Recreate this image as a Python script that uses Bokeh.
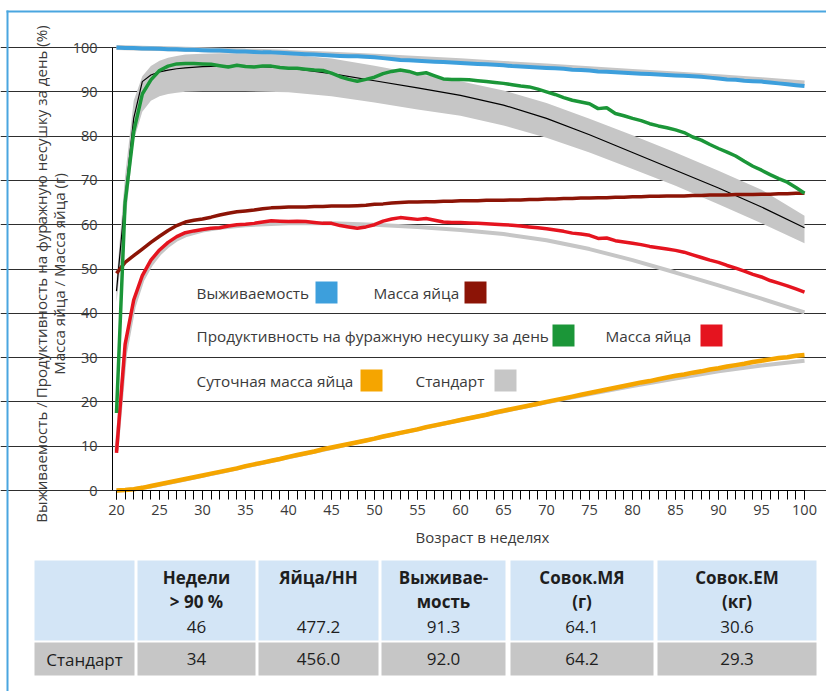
import math
from bokeh.plotting import figure
from bokeh.models import Label, FixedTicker, Range1d, LinearAxis, Grid
from bokeh.embed import file_html
from bokeh.resources import INLINE
from bokeh.core.properties import value

# ---------------- data ----------------
weeks = list(range(20, 101))

survival = [100.0, 99.9, 99.9, 99.8, 99.8, 99.7, 99.6, 99.6, 99.5, 99.5,
            99.4, 99.3, 99.3, 99.2, 99.1, 99.1, 99.0, 98.9, 98.9, 98.8,
            98.7, 98.6, 98.5, 98.4, 98.3, 98.2, 98.1, 98.0, 98.0, 97.9,
            97.8, 97.6, 97.4, 97.2, 97.1, 97.0, 96.9, 96.8, 96.7, 96.6,
            96.5, 96.4, 96.3, 96.2, 96.1, 96.0, 95.8, 95.7, 95.6, 95.5,
            95.4, 95.3, 95.2, 95.0, 94.9, 94.8, 94.6, 94.5, 94.4, 94.3,
            94.2, 94.1, 94.0, 93.9, 93.8, 93.7, 93.6, 93.5, 93.4, 93.2,
            93.0, 92.8, 92.7, 92.5, 92.4, 92.3, 92.1, 91.9, 91.7, 91.5, 91.3]

production = [17.5, 65.0, 81.0, 89.5, 92.7, 94.8, 95.8, 96.3, 96.4, 96.4,
              96.3, 96.2, 95.9, 95.6, 96.0, 95.7, 95.6, 95.8, 95.8, 95.5,
              95.3, 95.3, 95.1, 94.9, 94.8, 94.2, 93.4, 92.8, 92.4, 92.8,
              93.3, 94.1, 94.6, 94.9, 94.6, 94.0, 94.3, 93.6, 92.9, 92.8,
              92.8, 92.7, 92.5, 92.3, 92.1, 91.9, 91.6, 91.3, 91.1, 90.6,
              90.0, 89.4, 88.7, 88.1, 87.7, 87.3, 86.2, 86.4, 85.1, 84.6,
              84.0, 83.5, 82.8, 82.3, 81.9, 81.4, 80.8, 79.8, 79.1, 78.1,
              77.2, 76.4, 75.5, 74.3, 73.2, 72.3, 71.3, 70.4, 69.6, 68.4, 67.1]

egg_weight = [49.0, 51.5, 53.0, 54.5, 56.0, 57.4, 58.7, 59.8, 60.6, 61.0,
              61.3, 61.7, 62.2, 62.6, 62.9, 63.1, 63.3, 63.6, 63.8, 63.9,
              64.0, 64.0, 64.0, 64.1, 64.1, 64.2, 64.2, 64.2, 64.3, 64.4,
              64.6, 64.7, 64.9, 65.0, 65.1, 65.1, 65.2, 65.2, 65.3, 65.3,
              65.4, 65.4, 65.4, 65.5, 65.5, 65.5, 65.6, 65.6, 65.7, 65.7,
              65.8, 65.8, 65.9, 65.9, 66.0, 66.0, 66.1, 66.1, 66.2, 66.2,
              66.3, 66.3, 66.4, 66.4, 66.5, 66.5, 66.5, 66.6, 66.6, 66.7,
              66.7, 66.7, 66.8, 66.8, 66.8, 66.9, 66.9, 67.0, 67.0, 67.1, 67.1]

egg_mass = [8.5, 33.0, 43.0, 48.5, 52.0, 54.3, 56.0, 57.3, 58.2, 58.6,
            58.9, 59.2, 59.3, 59.7, 60.0, 60.1, 60.3, 60.6, 60.9, 60.8,
            60.7, 60.8, 60.7, 60.5, 60.3, 60.3, 59.8, 59.5, 59.2, 59.5,
            60.0, 60.8, 61.3, 61.6, 61.4, 61.2, 61.4, 61.0, 60.6, 60.5,
            60.5, 60.4, 60.3, 60.2, 60.1, 60.0, 59.9, 59.7, 59.5, 59.3,
            59.1, 58.8, 58.5, 58.1, 57.9, 57.6, 56.9, 57.0, 56.4, 56.1,
            55.8, 55.5, 55.1, 54.8, 54.5, 54.2, 53.8, 53.2, 52.6, 52.0,
            51.5, 50.8, 50.2, 49.5, 48.8, 48.2, 47.4, 46.8, 46.2, 45.5, 44.8]

cum_egg_mass = [0.0, 0.1, 0.3, 0.6, 1.0, 1.4, 1.8, 2.2, 2.6, 3.0,
                3.4, 3.8, 4.2, 4.6, 5.0, 5.5, 5.9, 6.3, 6.7, 7.1,
                7.6, 8.0, 8.4, 8.8, 9.3, 9.7, 10.1, 10.5, 10.9, 11.3,
                11.7, 12.2, 12.6, 13.0, 13.4, 13.8, 14.3, 14.7, 15.1, 15.5,
                15.9, 16.3, 16.7, 17.1, 17.6, 18.0, 18.4, 18.8, 19.2, 19.6,
                20.0, 20.4, 20.8, 21.2, 21.6, 22.0, 22.4, 22.8, 23.2, 23.6,
                24.0, 24.4, 24.7, 25.1, 25.5, 25.9, 26.2, 26.6, 26.9, 27.3,
                27.6, 28.0, 28.3, 28.6, 29.0, 29.3, 29.6, 29.9, 30.1, 30.4, 30.6]

std_weeks = [20, 21, 22, 23, 24, 25, 26, 27, 28, 30, 32, 35, 40, 45, 50,
             55, 60, 65, 70, 75, 80, 85, 90, 95, 100]
std_survival = [100.0, 99.95, 99.9, 99.85, 99.8, 99.75, 99.7, 99.65, 99.6, 99.5,
                99.4, 99.2, 98.9, 98.5, 98.0, 97.5, 97.0, 96.4, 95.8, 95.2,
                94.6, 94.0, 93.4, 92.7, 92.0]
std_production = [45.0, 66.0, 84.0, 92.3, 93.8, 94.5, 94.9, 95.2, 95.4, 95.7,
                  95.8, 95.8, 95.4, 94.1, 92.5, 90.9, 89.2, 87.0, 84.0, 80.3,
                  76.3, 72.3, 68.3, 64.0, 59.3]
std_production_low = [42.5, 60.0, 79.0, 85.5, 88.0, 89.0, 89.5, 89.8, 90.0, 90.1,
                      90.1, 90.1, 89.9, 89.0, 87.6, 86.0, 84.6, 82.4, 79.6, 76.3,
                      72.6, 68.8, 64.6, 60.3, 55.8]
std_production_high = [47.5, 71.0, 88.0, 93.5, 95.8, 97.0, 97.7, 98.1, 98.4, 98.6,
                       98.7, 98.7, 98.4, 97.5, 95.9, 94.1, 92.4, 90.3, 87.5, 83.9,
                       80.2, 76.3, 72.2, 67.9, 62.0]
std_egg_mass = [9.0, 31.0, 41.5, 47.5, 51.0, 53.5, 55.3, 56.7, 57.6, 58.7,
                59.3, 59.9, 60.3, 60.3, 60.0, 59.5, 58.8, 57.9, 56.5, 54.5,
                52.0, 49.2, 46.3, 43.3, 40.2]
std_cum_egg_mass = [0.0, 0.1, 0.3, 0.6, 0.9, 1.3, 1.7, 2.1, 2.5, 3.3,
                    4.1, 5.4, 7.5, 9.6, 11.7, 13.8, 15.9, 17.9, 19.9, 21.8,
                    23.6, 25.3, 26.9, 28.2, 29.3]

y_ticks = list(range(0, 101, 10))
x_major_ticks = list(range(20, 101, 5))
x_minor_ticks = list(range(20, 101, 1))

legend_labels = ["Выживаемость", "Масса яйца",
                 "Продуктивность на фуражную несушку за день", "Масса яйца",
                 "Суточная масса яйца", "Стандарт"]

table_header_line1 = ["Недели", "Яйца/НН", "Выживае-", "Совок.МЯ", "Совок.ЕМ"]
table_header_line2 = ["> 90 %", "", "мость", "(г)", "(кг)"]
table_values = ["46", "477.2", "91.3", "64.1", "30.6"]
table_standard_label = "Стандарт"
table_standard = ["34", "456.0", "92.0", "64.2", "29.3"]

y_label_1 = "Выживаемость / Продуктивность на фуражную несушку за день (%)"
y_label_2 = "Масса яйца / Масса яйца (г)"
x_label = "Возраст в неделях"

# ---------------- styles / layout ----------------
FONT = "Open Sans"
BLUE = "#3d9fdc"
DARKRED = "#8c1406"
GREEN = "#1b9638"
RED = "#e5141f"
ORANGE = "#f5a500"
GRAY = "#c6c6c6"
BORDER = "#4aa6e0"
TXT = "#3a3a3a"
TAB_TXT = "#1e1e1e"
HEAD_BG = "#d3e5f6"
STD_BG = "#c6c6c6"
legend_colors = [BLUE, DARKRED, GREEN, RED, ORANGE, GRAY]

W, H = 826, 691
SX, SY = 8.6, 4.43        # px per week, px per unit
PX20, PY0 = 116, 490      # pixel of week 20, pixel of value 0


def dx(px):
    return 20 + (px - PX20) / SX


def dy(py):
    return (PY0 - py) / SY


p = figure(width=W, height=H, x_range=Range1d(dx(0), dx(W)), y_range=Range1d(dy(H), dy(0)),
           output_backend="svg", toolbar_location=None, x_axis_type=None, y_axis_type=None,
           min_border=0)
p.outline_line_color = None
p.background_fill_color = "white"
p.border_fill_color = "white"

grid = Grid(dimension=1, ticker=FixedTicker(ticks=y_ticks), bounds=(dx(112), dx(810)),
            grid_line_color="#2e2e2e", grid_line_width=1)
p.add_layout(grid)

yaxis = LinearAxis(fixed_location=dx(112), ticker=FixedTicker(ticks=y_ticks), bounds=(0, 100))
yaxis.axis_line_color = "black"
yaxis.major_tick_out = 12
yaxis.major_tick_in = 0
yaxis.minor_tick_out = 0
yaxis.minor_tick_in = 0
yaxis.major_tick_line_color = "#2e2e2e"
yaxis.major_label_standoff = 3
yaxis.major_label_text_font = FONT
yaxis.major_label_text_font_size = "14.5px"
yaxis.major_label_text_color = TXT
p.add_layout(yaxis, "left")

xaxis = LinearAxis(fixed_location=0, ticker=FixedTicker(ticks=x_major_ticks, minor_ticks=x_minor_ticks),
                   bounds=(20, 100))
xaxis.axis_line_color = "black"
xaxis.major_tick_out = 9
xaxis.major_tick_in = 0
xaxis.minor_tick_out = 9
xaxis.minor_tick_in = 0
xaxis.major_tick_line_color = "black"
xaxis.minor_tick_line_color = "black"
xaxis.major_label_standoff = 5
xaxis.major_label_text_font = FONT
xaxis.major_label_text_font_size = "14.5px"
xaxis.major_label_text_color = TXT
p.add_layout(xaxis, "below")

# standards
p.varea(x=std_weeks, y1=std_production_low, y2=std_production_high, fill_color=GRAY)
p.line(std_weeks, std_survival, line_color=GRAY, line_width=5)
p.line(std_weeks, std_egg_mass, line_color=GRAY, line_width=4)
p.line(std_weeks, std_cum_egg_mass, line_color=GRAY, line_width=4)
p.line(std_weeks, std_production, line_color="black", line_width=1.2)

# actuals
p.line(weeks, survival, line_color=BLUE, line_width=4)
p.line(weeks, egg_weight, line_color=DARKRED, line_width=3.5)
p.line(weeks, egg_mass, line_color=RED, line_width=3.5)
p.line(weeks, production, line_color=GREEN, line_width=3.5)
p.line(weeks, cum_egg_mass, line_color=ORANGE, line_width=4.5)

# legend (text + squares)
legend_text_pos = [(196, 292), (373, 292), (196, 335), (605, 335), (196, 380), (415, 380)]
legend_box_pos = [(326, 292), (475, 292), (563, 335), (711, 335), (371, 380), (505, 380)]
for lab, (tx, ty) in zip(legend_labels, legend_text_pos):
    p.add_layout(Label(x=dx(tx), y=dy(ty), text=lab, text_font=FONT, text_font_size="15.3px",
                       text_color=TXT, text_align="left", text_baseline="middle"))
p.rect(x=[dx(bx) for bx, by in legend_box_pos], y=[dy(by) for bx, by in legend_box_pos],
       width=22, height=22, width_units="screen", height_units="screen",
       fill_color=legend_colors, line_color=None)

# axis titles (two centred lines, rotated)
p.add_layout(Label(x=dx(40), y=dy(273.5), text=y_label_1, angle=math.pi / 2, text_font=FONT,
                   text_font_size="15.1px", text_color=TXT, text_align="center", text_baseline="middle"))
p.add_layout(Label(x=dx(58.5), y=dy(273.5), text=y_label_2, angle=math.pi / 2, text_font=FONT,
                   text_font_size="15.1px", text_color=TXT, text_align="center", text_baseline="middle"))
p.add_layout(Label(x=dx(482), y=dy(536), text=x_label, text_font=FONT, text_font_size="15px",
                   text_color=TXT, text_align="center", text_baseline="middle"))

# outer blue border (left and top)
p.quad(left=[dx(6), dx(6)], right=[dx(8), dx(W + 5)], top=[dy(10), dy(10)], bottom=[dy(H + 5), dy(12)],
       fill_color=BORDER, line_color=None)

# ---------------- table ----------------
col_l = [34, 137, 258, 381, 510, 657]
col_r = [134, 255, 378, 505, 653, 816]
head_top, head_bot = 560, 640
row_top, row_bot = 642, 675

p.quad(left=[dx(v) for v in col_l], right=[dx(v) for v in col_r],
       top=[dy(head_top)] * 6, bottom=[dy(head_bot)] * 6, fill_color=HEAD_BG, line_color=None)
p.quad(left=[dx(v) for v in col_l], right=[dx(v) for v in col_r],
       top=[dy(row_top)] * 6, bottom=[dy(row_bot)] * 6, fill_color=STD_BG, line_color=None)

centers = [dx((l + r) / 2) for l, r in zip(col_l, col_r)]
data_centers = centers[1:]
p.text(x=data_centers, y=[dy(576.5)] * 5, text=table_header_line1, text_font=value(FONT),
       text_font_style="bold", text_font_size="17px", text_color=TAB_TXT,
       text_align="center", text_baseline="middle")
p.text(x=data_centers, y=[dy(601)] * 5, text=table_header_line2, text_font=value(FONT),
       text_font_style="bold", text_font_size="17px", text_color=TAB_TXT,
       text_align="center", text_baseline="middle")
p.text(x=data_centers, y=[dy(626)] * 5, text=table_values, text_font=value(FONT),
       text_font_size="17px", text_color=TAB_TXT, text_align="center", text_baseline="middle")
p.text(x=centers, y=[dy(658.5)] * 6, text=[table_standard_label] + table_standard,
       text_font=value(FONT), text_font_size="17px", text_color=TAB_TXT,
       text_align="center", text_baseline="middle")

open("out.html", "w").write(file_html(p, INLINE))
